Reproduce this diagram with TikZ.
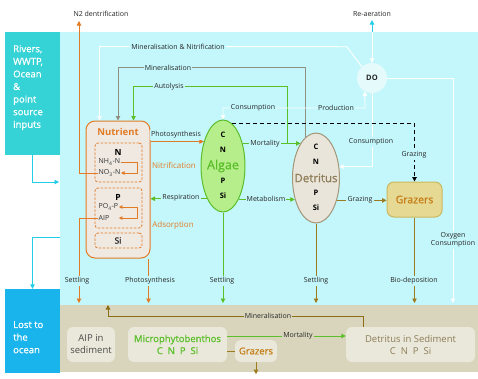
\documentclass[tikz,border=0pt]{standalone}
\usepackage{fontspec}
\setmainfont{Open Sans}
\newfontfamily\semib[FakeBold=0.9]{Open Sans}
\usetikzlibrary{arrows.meta,shapes.geometric}

% palette
\definecolor{water}{HTML}{C4F7FB}
\definecolor{riverbox}{HTML}{35D3D6}
\definecolor{lostbox}{HTML}{1AB4EC}
\definecolor{sed}{HTML}{D8D5BC}
\definecolor{sedpale}{HTML}{EAE8DA}
\definecolor{nutor}{HTML}{E27B25}
\definecolor{nutfill}{HTML}{EFE9E2}
\definecolor{alggreen}{HTML}{5BBF2A}
\definecolor{algfill}{HTML}{B6EE8C}
\definecolor{detfill}{HTML}{E9E5DA}
\definecolor{detline}{HTML}{A39679}
\definecolor{dettext}{HTML}{8E7D58}
\definecolor{minline}{HTML}{8F8F82}
\definecolor{brownln}{HTML}{9C7B1E}
\definecolor{grazfill}{HTML}{E6D993}
\definecolor{grazline}{HTML}{CBB85C}
\definecolor{graztext}{HTML}{C57E17}
\definecolor{dofill}{HTML}{E4FAFB}
\definecolor{aircyan}{HTML}{22CDE8}
\definecolor{sedline}{HTML}{8A6D14}
\definecolor{txt}{HTML}{262626}

\begin{document}
\begin{tikzpicture}[x=1pt,y=-1pt,
  every node/.style={font=\fontsize{7}{8}\selectfont, inner sep=1pt},
  tip/.style={-{Triangle[length=4.5pt,width=4.5pt]}},
  flow/.style={line width=0.9pt, tip},
  smallflow/.style={line width=0.8pt, -{Triangle[length=3.5pt,width=3.5pt]}},
  lbl/.style={fill=water, text=txt, inner sep=1.2pt},
  slbl/.style={fill=sed, text=txt, inner sep=1.2pt},
  poolbox/.style={draw=nutor, dash pattern=on 2.5pt off 1.5pt, line width=0.8pt,
    rounded corners=3pt, minimum width=47pt, inner sep=0pt},
  sedcard/.style={fill=sedpale, rounded corners=6pt, minimum height=35pt, inner sep=0pt},
  elem/.style={font=\bfseries\fontsize{7.5}{8}\selectfont, text=black},
  chem/.style={anchor=west, text=black!80, font=\fontsize{7}{7.5}\selectfont, inner sep=0.5pt},
  boxtext/.style={anchor=north west, align=left, text=white, inner sep=0pt,
    font=\semib\fontsize{9.5}{12.6}\selectfont},
]
\useasboundingbox (0,0) rectangle (478,378);

% water column and sediment layer
\fill[white] (0,0) rectangle (478,378);
\fill[water] (60,32) rectangle (478,305);
\fill[sed] (60,305) rectangle (478,372);

% boundary boxes
\node[fill=riverbox, minimum width=55pt, minimum height=123pt, inner sep=0pt] (riv) at (32.5,93.5) {};
\node[boxtext] (rivtxt) at (13,45) {Rivers,\\WWTP,\\Ocean\\\&\\point\\source\\inputs};
\node[fill=lostbox, minimum width=55pt, minimum height=84pt, inner sep=0pt] (lost) at (32.5,331) {};
\node[boxtext] (losttxt) at (13,321) {Lost to\\the\\ocean};

% nutrient pool
\node[draw=nutor, fill=nutfill, line width=1pt, rounded corners=9pt, minimum width=64pt,
  minimum height=137pt, inner sep=0pt] (nut) at (118,189.5) {};
\node[text=nutor, font=\bfseries\fontsize{9.5}{10}\selectfont] (nuttitle) at (118,132) {Nutrient};
\node[poolbox, minimum height=39pt] (nbox) at (118.5,162.5) {};
\node[poolbox, minimum height=40pt] (pbox) at (118.5,208) {};
\node[poolbox, minimum height=15pt] (sibox) at (118.5,240.5) {};
\node[elem, font=\bfseries\fontsize{8.5}{9}\selectfont] (nN) at (118,152) {N};
\node[chem] (nh4) at (98,162) {NH\textsubscript{4}-N};
\node[chem] (no3) at (98,173) {NO\textsubscript{3}-N};
\node[elem, font=\bfseries\fontsize{8.5}{9}\selectfont] (nP) at (118,197) {P};
\node[chem] (po4) at (98,207) {PO\textsubscript{4}-P};
\node[chem] (aip) at (98,218) {AIP};
\node[font=\semib\fontsize{8.5}{9}\selectfont, text=txt] (nSi) at (118,240.5) {Si};

% algae
\node[ellipse, draw=alggreen, line width=1pt, fill=algfill, minimum width=44pt,
  minimum height=92pt, inner sep=0pt] (alg) at (223,166) {};
\node[elem] (aC) at (223,135) {C};
\node[elem] (aN) at (223,150) {N};
\node[text=alggreen, font=\semib\fontsize{12.5}{13}\selectfont] (aname) at (223,166) {Algae};
\node[elem] (aP) at (223,181) {P};
\node[elem] (aSi) at (223,196) {Si};

% detritus
\node[ellipse, draw=detline, line width=1pt, fill=detfill, minimum width=47pt,
  minimum height=90pt, inner sep=0pt] (det) at (316,178) {};
\node[elem] (dC) at (316,147) {C};
\node[elem] (dN) at (316,162) {N};
\node[text=dettext, font=\semib\fontsize{11.5}{12}\selectfont] (dname) at (316,178) {Detritus};
\node[elem] (dP) at (316,193) {P};
\node[elem] (dSi) at (316,208) {Si};

% dissolved oxygen
\node[circle, fill=dofill, minimum size=30pt, inner sep=0pt, text=txt,
  font=\bfseries\fontsize{7.5}{8}\selectfont] (do) at (372,78) {DO};

% grazers
\node[draw=grazline, fill=grazfill, line width=1pt, rounded corners=7pt, minimum width=55pt,
  minimum height=35pt, inner sep=0pt, text=graztext, font=\semib\fontsize{10.5}{11}\selectfont]
  (graz) at (414.5,199.5) {Grazers};

% sediment cards
\node[sedcard, minimum width=48pt, align=center, text=black!70, font=\fontsize{9.5}{12}\selectfont]
  (aipsed) at (91,344.5) {AIP in\\sediment};
\node[sedcard, minimum width=99pt, align=center, text=alggreen, font=\semib\fontsize{9.5}{12}\selectfont]
  (micro) at (177.5,344.5) {Microphytobenthos\\C\ \ N\ \ P\ \ Si};
\node[sedcard, minimum width=42pt, minimum height=22pt, text=graztext, font=\semib\fontsize{9.5}{11}\selectfont]
  (graz2) at (256,351) {Grazers};
\node[sedcard, minimum width=129pt, align=center, text=dettext, font=\fontsize{9.5}{12}\selectfont]
  (detsed) at (410.5,344.5) {Detritus in Sediment\\C\ \ N\ \ P\ \ Si};

% free ends
\coordinate (n2top) at (79,21);
\coordinate (airtop) at (372,20);
\coordinate (surf) at (372,32);
\coordinate (inflow) at (59,182);
\coordinate (outflow) at (60,237);
\coordinate (bed) at (0,303);
\coordinate (prodbend) at (365,108);
\coordinate (sedmin) at (108,316);
\coordinate (sedminup) at (108,305);
\coordinate (psettle) at (79,303);

% boundary flows
\draw[aircyan, flow] (riv.south) |- (inflow);
\draw[aircyan, flow] (outflow) -| (lost.north);
\draw[aircyan, flow] (surf) -- (airtop);
\draw[white, flow] (surf) -- (do.north);

% internal nitrogen / phosphorus transformations
\draw[nutor, smallflow] (nh4.east) -- (137,162) |- (no3.east);
\draw[nutor, line width=0.8pt, {Triangle[length=3.5pt,width=3.5pt]}-{Triangle[length=3.5pt,width=3.5pt]}]
  (po4.east) -| (137,218) -- (aip.east -| po4.east);

% nutrient losses
\draw[nutor, flow] (no3.west) -| (n2top);
\draw[nutor, flow] (aip.west) -| (psettle);
\draw[nutor, flow] ([xshift=-2pt]nut.south east) -- ([xshift=-2pt]nut.south east |- bed);

% remineralisation back to the nutrient pool
\draw[white, flow] (do.132) -- ++(-15,-20) -- ([xshift=14pt,yshift=74pt]nut.north west) -- ([xshift=14pt]nut.north west);
\draw[minline, flow] (det.105) |- ([yshift=53pt]nut.north) -- (nut.north);
\draw[alggreen, flow] (287,144) |- ([xshift=-17pt,yshift=34pt]nut.north east) -- ([xshift=-17pt]nut.north east);

% algae exchanges
\draw[nutor, flow] (nut.east |- alg.128) -- (alg.128);
\draw[alggreen, flow] (alg.244) -- (nut.east |- alg.244);
\draw[alggreen, flow] (alg.49) -- (alg.49 -| det.114);
\draw[alggreen, flow] (alg.-65) -- (alg.-65 -| det.225);
\draw[brownln, flow] (det.-47) -- (det.-47 -| graz.west);

% oxygen links
\draw[white, line width=0.9pt, {Triangle[length=4.5pt,width=4.5pt]}-{Triangle[length=4.5pt,width=4.5pt]}]
  (alg.north) |- (prodbend) -- (do.242);
\draw[white, flow] (do.south) |- (det.26);
\draw[white, flow] (do.east) -| (453,303);

% grazing on algae
\draw[black, line width=1pt, dash pattern=on 4pt off 3pt, -{Triangle[length=4.5pt,width=4.5pt]}]
  (alg.78) -- (alg.78 -| graz.north) -- (graz.north);

% settling to the bed
\draw[alggreen, flow] (alg.south) -- (alg.south |- bed);
\draw[brownln, flow] (det.south) -- (det.south |- bed);
\draw[brownln, flow] (graz.south) -- (graz.south |- bed);

% sediment processes
\draw[sedline, flow] ([xshift=18pt]detsed.north west) |- (sedmin) -- (sedminup);
\draw[alggreen, flow] ([yshift=8.5pt]micro.east) -- ([yshift=8.5pt]detsed.west);
\draw[brownln, line width=0.9pt] (micro.east |- graz2.west) -- (graz2.west);
\draw[brownln, flow] (graz2.south) -- ++(0,12);

% process labels
\node[text=txt] (lN2) at (101,14) {N2 dentrification};
\node[text=txt] (lair) at (372,14) {Re-aeration};
\node[lbl] (lmn) at (178,47) {Mineralisation \& Nitrification};
\node[lbl] (lmin) at (168,68) {Mineralisation};
\node[lbl] (laut) at (169,87) {Autolysis};
\node[lbl] (lcons1) at (253,108) {Consumption};
\node[lbl] (lprod) at (336,108) {Production};
\node[lbl] (lcons2) at (371,142) {Consumption};
\node[lbl] (lgraz1) at (414,155) {Grazing};
\node[lbl] (lphot) at (176,135) {Photosynthesis};
\node[lbl, text=nutor, font=\fontsize{8}{9}\selectfont] (lnit) at (174,165) {Nitrification};
\node[lbl] (lresp) at (181,198) {Respiration};
\node[lbl, text=nutor, font=\fontsize{8}{9}\selectfont] (lads) at (173,225) {Adsorption};
\node[lbl] (lmort) at (265,144) {Mortality};
\node[lbl] (lmet) at (266,199) {Metabolism};
\node[lbl] (lgraz2) at (360,200) {Grazing};
\node[lbl, align=center, font=\fontsize{7}{8.5}\selectfont] (loxy) at (453,240) {Oxygen\\Consumption};
\node[lbl] (lset1) at (77,281) {Settling};
\node[lbl] (lphot2) at (150,281) {Photosynthesis};
\node[lbl] (lset2) at (222,281) {Settling};
\node[lbl] (lset3) at (316,281) {Settling};
\node[lbl] (lbio) at (414,281) {Bio-deposition};
\node[slbl] (lsedmin) at (268,316) {Mineralisation};
\node[slbl] (lsedmort) at (298,336) {Mortality};

\end{tikzpicture}
\end{document}
